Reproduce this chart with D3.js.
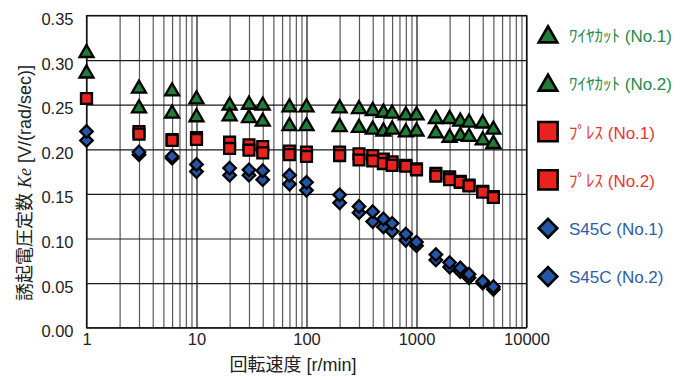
<!DOCTYPE html>
<html>
<head>
<meta charset="utf-8">
<script src="https://cdn.jsdelivr.net/npm/d3@7"></script>
<style>
  body { margin: 0; background: #fff; }
  text { font-family: "Liberation Sans", Arial, "Noto Sans CJK JP", sans-serif; }
</style>
</head>
<body>
<svg id="chart" width="689" height="377"></svg>
<script>
// rotation speed [r/min]
const speeds = [1, 3, 6, 10, 20, 30, 40, 70, 100, 200, 300, 400, 500, 600, 800, 1000, 1500, 2000, 2500, 3000, 4000, 5000];

// Ke [V/(rad/sec)]
const wire1 = [0.308, 0.268, 0.265, 0.256, 0.249, 0.250, 0.249, 0.247, 0.247, 0.246, 0.245, 0.243, 0.241, 0.240, 0.238, 0.238, 0.234, 0.234, 0.231, 0.230, 0.229, 0.222];
const wire2 = [0.285, 0.246, 0.240, 0.236, 0.237, 0.235, 0.231, 0.226, 0.226, 0.225, 0.224, 0.222, 0.220, 0.222, 0.219, 0.220, 0.218, 0.213, 0.215, 0.214, 0.210, 0.206];
const press1 = [0.257, 0.220, 0.211, 0.213, 0.208, 0.205, 0.203, 0.198, 0.197, 0.197, 0.195, 0.193, 0.189, 0.186, 0.182, 0.178, 0.173, 0.169, 0.164, 0.160, 0.153, 0.147];
const press2 = [0.257, 0.217, 0.210, 0.211, 0.201, 0.199, 0.196, 0.194, 0.192, 0.193, 0.188, 0.187, 0.184, 0.182, 0.181, 0.177, 0.170, 0.166, 0.163, 0.159, 0.152, 0.146];
const s45c1 = [0.210, 0.194, 0.190, 0.175, 0.171, 0.171, 0.166, 0.161, 0.154, 0.140, 0.129, 0.119, 0.113, 0.108, 0.098, 0.092, 0.076, 0.068, 0.063, 0.056, 0.050, 0.043];
const s45c2 = [0.220, 0.197, 0.192, 0.183, 0.179, 0.177, 0.176, 0.171, 0.163, 0.149, 0.136, 0.130, 0.122, 0.117, 0.105, 0.096, 0.082, 0.073, 0.067, 0.060, 0.052, 0.046];

const xLabels = [1, 10, 100, 1000, 10000];
const yTicks = [0, 0.05, 0.10, 0.15, 0.20, 0.25, 0.30, 0.35];

const seriesNames = ["ﾜｲﾔｶｯﾄ (No.1)", "ﾜｲﾔｶｯﾄ (No.2)", "ﾌﾟﾚｽ (No.1)", "ﾌﾟﾚｽ (No.2)", "S45C (No.1)", "S45C (No.2)"];

const series = [
  { name: seriesNames[0], values: wire1, shape: "tri", fill: "#1f7d35", text: "#27894a" },
  { name: seriesNames[1], values: wire2, shape: "tri", fill: "#1f7d35", text: "#27894a" },
  { name: seriesNames[2], values: press1, shape: "sq", fill: "#e8231d", text: "#e8352c" },
  { name: seriesNames[3], values: press2, shape: "sq", fill: "#e8231d", text: "#e8352c" },
  { name: seriesNames[4], values: s45c1, shape: "dia", fill: "#2456a8", text: "#2d5cae" },
  { name: seriesNames[5], values: s45c2, shape: "dia", fill: "#2456a8", text: "#2d5cae" }
];

const svg = d3.select("#chart");
const margin = { top: 15.5, left: 86.5 };
const width = 440;
const height = 312.2;

const g = svg.append("g").attr("transform", `translate(${margin.left},${margin.top})`);

const x = d3.scaleLog().domain([1, 10000]).range([0, width]);
const y = d3.scaleLinear().domain([0, 0.35]).range([height, 0]);

// log grid: every 1..9 x 10^k
const minorTicks = [];
for (let k = 0; k < 4; k++) {
  for (let m = 1; m <= 9; m++) minorTicks.push(m * Math.pow(10, k));
}
minorTicks.push(10000);

const vgrid = g.append("g")
  .attr("transform", `translate(0,${height})`)
  .call(d3.axisBottom(x).tickValues(minorTicks).tickSize(-height).tickFormat(""));
vgrid.select(".domain").remove();
vgrid.selectAll("line")
  .attr("stroke", (d) => xLabels.includes(d) ? "#111" : "#5a5a5a")
  .attr("stroke-width", 1.2);

const hgrid = g.append("g")
  .call(d3.axisLeft(y).tickValues(yTicks).tickSize(-width).tickFormat(d3.format(".2f")).tickPadding(13));
hgrid.select(".domain").remove();
hgrid.selectAll("line").attr("stroke", "#1a1a1a").attr("stroke-width", 1.2);
hgrid.selectAll("text")
  .attr("font-size", 16.5)
  .attr("fill", "#222")
  .attr("dy", "0.55em");

// frame
g.append("rect")
  .attr("width", width).attr("height", height)
  .attr("fill", "none").attr("stroke", "#111").attr("stroke-width", 1.2);

const xAxis = g.append("g")
  .attr("transform", `translate(0,${height})`)
  .call(d3.axisBottom(x).tickValues(xLabels).tickSize(0).tickFormat(d3.format("d")).tickPadding(6));
xAxis.select(".domain").remove();
xAxis.selectAll("text").attr("font-size", 16.5).attr("fill", "#222");

function symbolPath(shape, big) {
  if (shape === "tri") return d3.symbol(d3.symbolTriangle, big ? 150 : 85)();
  if (shape === "sq") return d3.symbol(d3.symbolSquare, big ? 370 : 118)();
  return d3.symbol(d3.symbolSquare, big ? 175 : 78)();
}

series.forEach((s) => {
  g.append("g")
    .selectAll("path")
    .data(speeds.map((v, i) => [v, s.values[i]]))
    .enter()
    .append("path")
    .attr("d", symbolPath(s.shape, false))
    .attr("transform", (d) => `translate(${x(d[0])},${y(d[1])})` + (s.shape === "dia" ? " rotate(45)" : ""))
    .attr("fill", s.fill)
    .attr("stroke", "#000")
    .attr("stroke-width", 2.3)
    .attr("stroke-linejoin", "miter");
});

// legend
const legend = svg.append("g").attr("transform", "translate(548,35)");
series.forEach((s, i) => {
  const row = legend.append("g").attr("transform", `translate(0,${i * 48.3})`);
  row.append("path")
    .attr("d", symbolPath(s.shape, true))
    .attr("transform", s.shape === "dia" ? "rotate(45)" : (s.shape === "tri" ? "translate(0,2)" : null))
    .attr("fill", s.fill)
    .attr("stroke", "#000")
    .attr("stroke-width", 2.6);
  row.append("text")
    .attr("x", 21)
    .attr("y", 1)
    .attr("dy", "0.35em")
    .attr("font-size", 17)
    .attr("fill", s.text)
    .text(s.name);
});

// axis titles
svg.append("text")
  .attr("x", 293)
  .attr("y", 371)
  .attr("text-anchor", "middle")
  .attr("font-size", 18)
  .attr("fill", "#222")
  .text("回転速度 [r/min]");

const yTitle = svg.append("text")
  .attr("transform", "translate(31,183) rotate(-90)")
  .attr("text-anchor", "middle")
  .attr("font-size", 18)
  .attr("fill", "#222");
yTitle.append("tspan").text("誘起電圧定数 ");
yTitle.append("tspan")
  .attr("font-family", "'Liberation Serif', 'Times New Roman', serif")
  .attr("font-style", "italic")
  .text("Ke");
yTitle.append("tspan").text(" [V/(rad/sec)]");
</script>
</body>
</html>
